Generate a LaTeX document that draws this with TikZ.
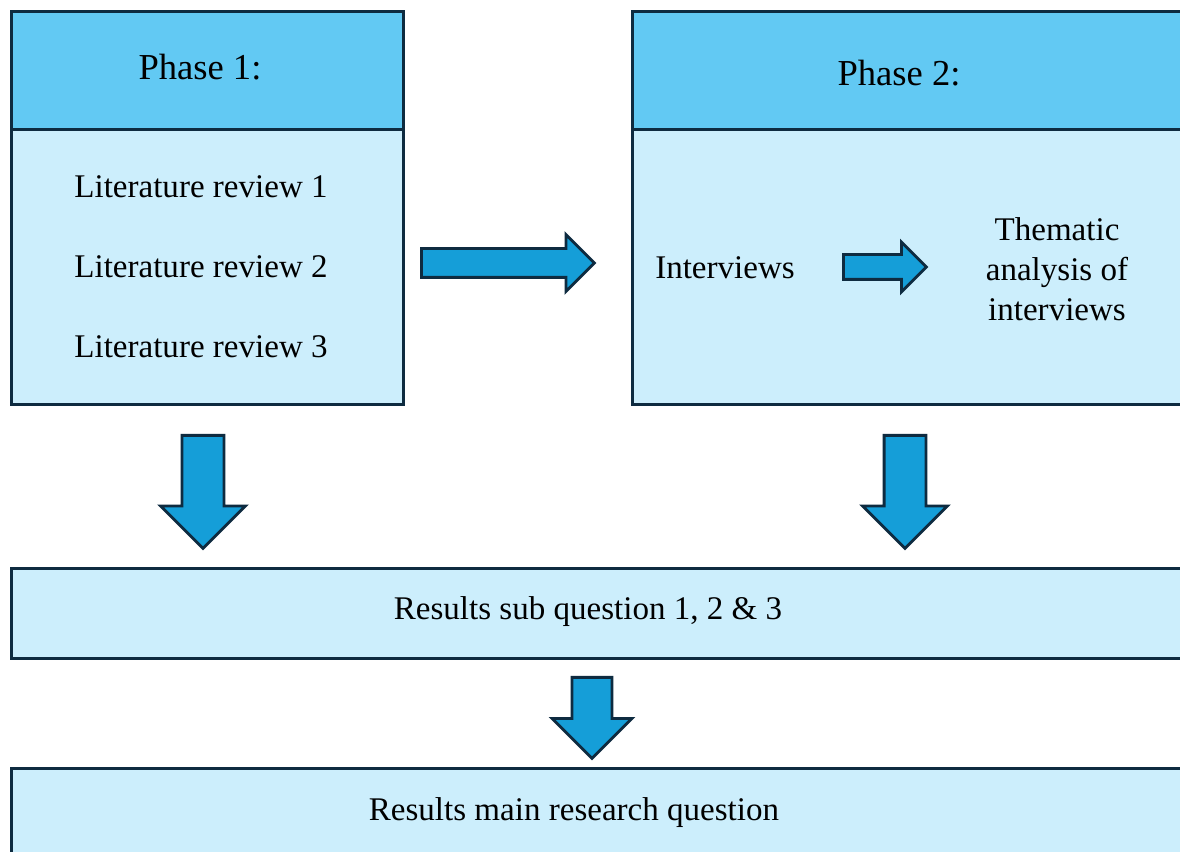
\documentclass[tikz,border=0pt]{standalone}
\usepackage{fontspec}
\setmainfont{Liberation Serif}
\usetikzlibrary{shapes.arrows, positioning}
\definecolor{HeadBlue}{HTML}{62C9F3}
\definecolor{PaleBlue}{HTML}{CCEEFC}
\definecolor{ArrowBlue}{HTML}{159ED8}
\definecolor{EdgeNavy}{HTML}{0E2B40}
\tikzset{
    panel/.style={draw=EdgeNavy, line width=2.1pt, fill=PaleBlue, anchor=north west, inner sep=0pt},
    headpanel/.style={panel, fill=HeadBlue},
    label/.style={font=\fontsize{23.5}{28.5}\selectfont, text=black, align=center},
    headlabel/.style={font=\fontsize{26}{30}\selectfont, text=black},
    blockarrow/.style={single arrow, draw=EdgeNavy, line width=2pt, fill=ArrowBlue,
        anchor=tail, inner xsep=0pt, text height=0pt, text depth=0pt, text width=0pt}
}
\begin{document}
\begin{tikzpicture}[x=0.025cm, y=-0.025cm]
    \useasboundingbox[fill=white] (0,0) rectangle (1180,852);
    \clip (0,0) rectangle (1180,852);
    % phase boxes
    \node[headpanel, minimum width=9.8cm, minimum height=2.95cm] (p1head) at (10,10) {};
    \node[panel, minimum width=9.8cm, minimum height=6.875cm] (p1body) at (10,128) {};
    \node[headpanel, minimum width=14.1cm, minimum height=2.95cm] (p2head) at (631,10) {};
    \node[panel, minimum width=14.1cm, minimum height=6.875cm] (p2body) at (631,128) {};
    \node[headlabel] (p1title) at (200,67) {Phase 1:};
    \node[headlabel] (p2title) at (899,73) {Phase 2:};
    % phase 1 contents
    \node[label] (lit1) at (201,187) {Literature review 1};
    \node[label] (lit2) at (201,267) {Literature review 2};
    \node[label] (lit3) at (201,347) {Literature review 3};
    % phase 2 contents
    \node[label] (interv) at (725,268) {Interviews};
    \node[label] (thema) at (1057,269) {Thematic\\analysis of\\interviews};
    % results
    \node[panel, minimum width=29.625cm, minimum height=2.25cm] (subres) at (10,567) {};
    \node[label] (subtext) at (588,612) {Results sub question 1, 2 \& 3};
    \node[panel, minimum width=29.625cm, minimum height=2.5cm] (mainres) at (10,767) {};
    \node[label] (maintext) at (574,813) {Results main research question};
    % block arrows
    \node[blockarrow, inner ysep=0.325cm, single arrow head extend=0.35cm, minimum height=4.325cm] (phasearrow) at (420,263) {};
    \node[blockarrow, inner ysep=0.275cm, single arrow head extend=0.3125cm, minimum height=2.075cm] (interarrow) at (842,267) {};
    \node[blockarrow, rotate=-90, inner ysep=0.4875cm, single arrow head extend=0.5375cm, minimum height=2.825cm] (downleft) at (203,434) {};
    \node[blockarrow, rotate=-90, inner ysep=0.4875cm, single arrow head extend=0.5375cm, minimum height=2.825cm] (downright) at (905,434) {};
    \node[blockarrow, rotate=-90, inner ysep=0.4625cm, single arrow head extend=0.5cm, minimum height=2.025cm] (downmain) at (592,676) {};
\end{tikzpicture}
\end{document}
